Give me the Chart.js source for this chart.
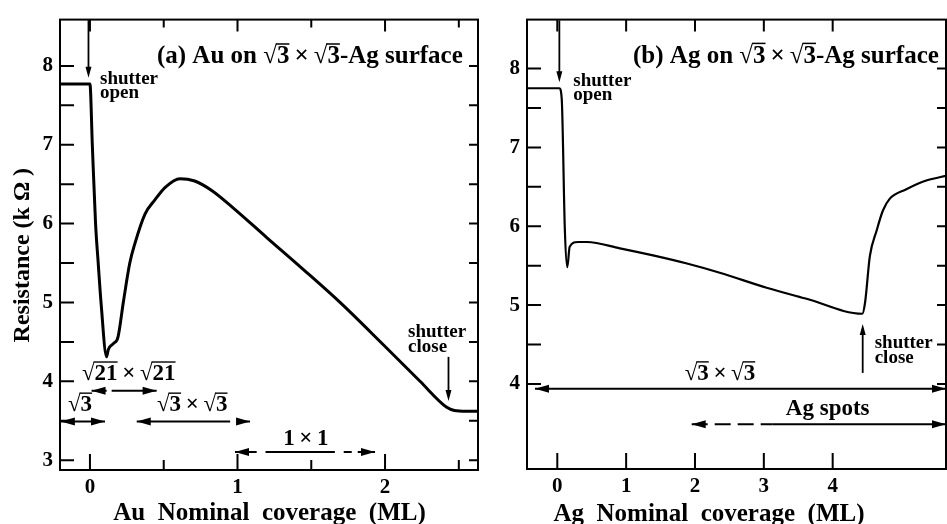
<!DOCTYPE html>
<html>
<head>
<meta charset="utf-8">
<script src="https://cdn.jsdelivr.net/npm/chart.js@4.4.1/dist/chart.umd.min.js"></script>
<style>
  html, body { margin: 0; padding: 0; background: #fff; }
  #wrap { position: relative; width: 947px; height: 524px; overflow: hidden; }
  .panel { position: absolute; top: 0; height: 524px; }
  #pa { left: 0; width: 480px; }
  #pb { left: 480px; width: 467px; }
</style>
</head>
<body>
<div id="wrap">
  <div class="panel" id="pa"><canvas id="chartA"></canvas></div>
  <div class="panel" id="pb"><canvas id="chartB"></canvas></div>
</div>
<script>
// (a) Au on sqrt3 x sqrt3-Ag : resistance (kOhm) vs nominal coverage (ML)
const auCoverage   = [-0.2, 0.0, 0.016, 0.038, 0.056, 0.075, 0.113, 0.124, 0.16, 0.19, 0.226, 0.27, 0.305, 0.373, 0.44, 0.51, 0.61, 0.71, 0.825, 0.97, 1.2, 1.445, 1.695, 1.99, 2.237, 2.418, 2.47, 2.55, 2.63];
const auResistance = [7.77, 7.77, 7.0, 6.0, 5.5, 5.0, 4.31, 4.4, 4.48, 4.56, 5.0, 5.5, 5.75, 6.12, 6.3, 6.46, 6.57, 6.54, 6.42, 6.2, 5.82, 5.42, 5.0, 4.46, 4.0, 3.67, 3.63, 3.62, 3.62];

// (b) Ag on sqrt3 x sqrt3-Ag
const agCoverage   = [-0.44, 0.03, 0.064, 0.11, 0.145, 0.18, 0.30, 0.43, 0.91, 1.39, 1.87, 2.36, 3.04, 3.62, 4.43, 4.47, 4.54, 4.64, 4.73, 4.83, 5.07, 5.36, 5.65];
const agResistance = [7.75, 7.75, 7.62, 5.95, 5.48, 5.74, 5.80, 5.80, 5.72, 5.63, 5.53, 5.41, 5.22, 5.08, 4.89, 5.03, 5.62, 5.95, 6.2, 6.35, 6.47, 6.58, 6.64];

// tick values
const auTicksX = [0, 1, 2];
const auMinorX = [0.5, 1.5, 2.5];
const auTicksY = [3, 4, 5, 6, 7, 8];
const auMinorY = [3.5, 4.5, 5.5, 6.5, 7.5];
const agTicksX = [0, 1, 2, 3, 4];
const agTicksY = [4, 5, 6, 7, 8];
const agMinorY = [4.5, 5.5, 6.5, 7.5];

const SERIF = '"Liberation Serif", "DejaVu Serif", serif';

// split "√{3}×√{3}" into plain / radical pieces
function richParts(str) {
  const parts = [];
  const re = /√\{([^}]*)\}/g;
  let last = 0, m;
  while ((m = re.exec(str))) {
    if (m.index > last) parts.push({ t: str.slice(last, m.index) });
    parts.push({ t: m[1], root: true });
    last = re.lastIndex;
  }
  if (last < str.length) parts.push({ t: str.slice(last) });
  return parts;
}

function drawRich(ctx, str, x, y, size) {
  ctx.font = `bold ${size}px ${SERIF}`;
  ctx.textBaseline = 'alphabetic';
  ctx.textAlign = 'left';
  let cx = x;
  for (const p of richParts(str)) {
    if (p.root) {
      ctx.fillText('√', cx, y);
      cx += ctx.measureText('√').width;
      const tw = ctx.measureText(p.t).width;
      ctx.fillText(p.t, cx, y);
      ctx.fillRect(cx - 1, y - size * 0.8, tw + 1, Math.max(1.2, size * 0.06));
      cx += tw;
    } else {
      ctx.fillText(p.t, cx, y);
      cx += ctx.measureText(p.t).width;
    }
  }
}

function head(ctx, tx, ty, dx, dy, len, half) {
  // filled arrowhead with tip at (tx,ty) pointing along (dx,dy)
  const nx = -dy, ny = dx;
  ctx.beginPath();
  ctx.moveTo(tx, ty);
  ctx.lineTo(tx - dx * len + nx * half, ty - dy * len + ny * half);
  ctx.lineTo(tx - dx * len - nx * half, ty - dy * len - ny * half);
  ctx.closePath();
  ctx.fill();
}

// frame + inward tick marks
const frame = {
  id: 'frame',
  afterDatasetsDraw(chart, args, o) {
    const { ctx, chartArea: a, scales: { x, y } } = chart;
    ctx.save();
    ctx.strokeStyle = '#000';
    ctx.lineWidth = 2;
    ctx.strokeRect(a.left, a.top, a.right - a.left, a.bottom - a.top);
    ctx.beginPath();
    const seg = (x1, y1, x2, y2) => { ctx.moveTo(x1, y1); ctx.lineTo(x2, y2); };
    o.majorX.forEach(v => { const p = x.getPixelForValue(v); seg(p, a.bottom, p, a.bottom - 16); seg(p, a.top, p, a.top + 12); });
    o.minorX.forEach(v => { const p = x.getPixelForValue(v); seg(p, a.bottom, p, a.bottom - 10); seg(p, a.top, p, a.top + 8); });
    o.majorY.concat(o.minorY).forEach(v => { const p = y.getPixelForValue(v); seg(a.left, p, a.left + 14, p); seg(a.right, p, a.right - 9, p); });
    ctx.stroke();
    ctx.restore();
  }
};

// texts and arrows, placed in data coordinates
const notes = {
  id: 'notes',
  afterDatasetsDraw(chart, args, o) {
    const { ctx, scales: { x, y } } = chart;
    const X = v => x.getPixelForValue(v), Y = v => y.getPixelForValue(v);
    ctx.save();
    ctx.fillStyle = '#000';
    ctx.strokeStyle = '#000';
    (o.vArrows || []).forEach(a => {
      const x0 = X(a.x), y1 = Y(a.from), y2 = Y(a.to);
      const d = y2 > y1 ? 1 : -1;
      ctx.lineWidth = 1.8;
      ctx.beginPath(); ctx.moveTo(x0, y1); ctx.lineTo(x0, y2 - d * 8); ctx.stroke();
      head(ctx, x0, y2, 0, d, 11, 3);
    });
    (o.hArrows || []).forEach(a => {
      const yy = Y(a.y);
      ctx.lineWidth = 2;
      a.segs.forEach(s => {
        ctx.setLineDash(s[2] ? s[2] : []);
        ctx.beginPath(); ctx.moveTo(X(s[0]), yy); ctx.lineTo(X(s[1]), yy); ctx.stroke();
      });
      ctx.setLineDash([]);
      (a.heads || []).forEach(h => head(ctx, X(h[0]), yy, h[1], 0, 14, 4));
    });
    (o.texts || []).forEach(t => drawRich(ctx, t.s, X(t.x), Y(t.y), t.size));
    (o.titles || []).forEach(t => {
      ctx.save();
      ctx.font = `bold ${t.size}px ${SERIF}`;
      ctx.textAlign = 'center';
      ctx.textBaseline = t.rot ? 'middle' : 'alphabetic';
      ctx.translate(X(t.x), Y(t.y));
      if (t.rot) ctx.rotate(-Math.PI / 2);
      ctx.fillText(t.s, 0, 0);
      ctx.restore();
    });
    ctx.restore();
  }
};

function makePanel(id, xs, ys, lw, xr, yr, axisW, axisH, padRight, ticksX, ticksY, deco) {
  const ctx = document.getElementById(id).getContext('2d');
  const tickFont = { family: SERIF, weight: 'bold', size: 21 };
  return new Chart(ctx, {
    type: 'line',
    data: {
      datasets: [{
        data: xs.map((v, i) => ({ x: v, y: ys[i] })),
        borderColor: '#000',
        borderWidth: lw,
        pointRadius: 0,
        fill: false,
        cubicInterpolationMode: 'monotone'
      }]
    },
    options: {
      responsive: true,
      maintainAspectRatio: false,
      animation: false,
      layout: { padding: { top: 13, right: padRight, left: 0, bottom: 0 } },
      plugins: { legend: { display: false }, tooltip: { enabled: false }, frame: deco.frame, notes: deco.notes },
      scales: {
        x: {
          type: 'linear', min: xr[0], max: xr[1],
          grid: { display: false, drawTicks: false }, border: { display: false },
          afterBuildTicks: s => { s.ticks = ticksX.map(v => ({ value: v })); },
          afterFit: s => { s.height = axisH; },
          ticks: { font: tickFont, color: '#000', padding: 5, maxRotation: 0 }
        },
        y: {
          type: 'linear', min: yr[0], max: yr[1],
          grid: { display: false, drawTicks: false }, border: { display: false },
          afterBuildTicks: s => { s.ticks = ticksY.map(v => ({ value: v })); },
          afterFit: s => { s.width = axisW; },
          ticks: { font: tickFont, color: '#000', padding: 7 }
        }
      }
    },
    plugins: [frame, notes]
  });
}

makePanel('chartA', auCoverage, auResistance, 3, [-0.203, 2.63], [2.875, 8.5875], 60, 54, 2, auTicksX, auTicksY, {
  frame: { majorX: auTicksX, minorX: auMinorX, majorY: auTicksY, minorY: auMinorY },
  notes: {
    vArrows: [
      { x: -0.01, from: 8.58, to: 7.85 },
      { x: 2.43, from: 4.31, to: 3.75 }
    ],
    hArrows: [
      { y: 3.88, segs: [[0.011, 0.113], [0.147, 0.452]], heads: [[0.011, -1], [0.452, 1]] },
      { y: 3.49, segs: [[-0.197, 0.102]], heads: [[-0.197, -1], [0.102, 1]] },
      { y: 3.49, segs: [[0.317, 0.95], [1.0, 1.085]], heads: [[0.317, -1], [1.085, 1]] },
      { y: 3.104, segs: [[0.983, 1.13, [8, 6]], [1.19, 1.66], [1.72, 1.932, [8, 6]]], heads: [[0.983, -1], [1.932, 1]] }
    ],
    texts: [
      { s: '(a) Au on √{3}\u2009×\u2009√{3}-Ag surface', x: 0.454, y: 8.034, size: 25 },
      { s: 'shutter', x: 0.068, y: 7.775, size: 19 },
      { s: 'open', x: 0.068, y: 7.595, size: 19 },
      { s: 'shutter', x: 2.156, y: 4.56, size: 19 },
      { s: 'close', x: 2.156, y: 4.375, size: 19 },
      { s: '√{21}\u2009×\u2009√{21}', x: -0.054, y: 4.02, size: 23 },
      { s: '√{3}', x: -0.149, y: 3.625, size: 23 },
      { s: '√{3}\u2009×\u2009√{3}', x: 0.454, y: 3.625, size: 23 },
      { s: '1\u2009×\u20091', x: 1.31, y: 3.19, size: 23 }
    ],
    titles: [
      { s: 'Au  Nominal  coverage  (ML)', x: 1.217, y: 2.2375, size: 25 },
      { s: 'Resistance (k Ω )', x: -0.455, y: 5.6, size: 24, rot: true }
    ]
  }
});

makePanel('chartB', agCoverage, agResistance, 2.2, [-0.44, 5.646], [2.921, 8.621], 47, 55, 1, agTicksX, agTicksY, {
  frame: { majorX: agTicksX, minorX: [], majorY: agTicksY, minorY: agMinorY },
  notes: {
    vArrows: [
      { x: 0.03, from: 8.61, to: 7.825 },
      { x: 4.436, from: 4.14, to: 4.76 }
    ],
    hArrows: [
      { y: 3.94, segs: [[-0.324, 5.646]], heads: [[-0.324, -1], [5.646, 1]] },
      { y: 3.49, segs: [[1.952, 3.13, [16, 7]], [3.13, 5.646]], heads: [[1.952, -1], [5.646, 1]] }
    ],
    texts: [
      { s: '(b) Ag on √{3}\u2009×\u2009√{3}-Ag surface', x: 1.10, y: 8.075, size: 25 },
      { s: 'shutter', x: 0.232, y: 7.78, size: 19 },
      { s: 'open', x: 0.232, y: 7.6, size: 19 },
      { s: 'shutter', x: 4.61, y: 4.45, size: 19 },
      { s: 'close', x: 4.61, y: 4.265, size: 19 },
      { s: '√{3}\u2009×\u2009√{3}', x: 1.85, y: 4.055, size: 23 },
      { s: 'Ag spots', x: 3.32, y: 3.61, size: 23 }
    ],
    titles: [
      { s: 'Ag  Nominal  coverage  (ML)', x: 2.203, y: 2.265, size: 25 }
    ]
  }
});
</script>
</body>
</html>
